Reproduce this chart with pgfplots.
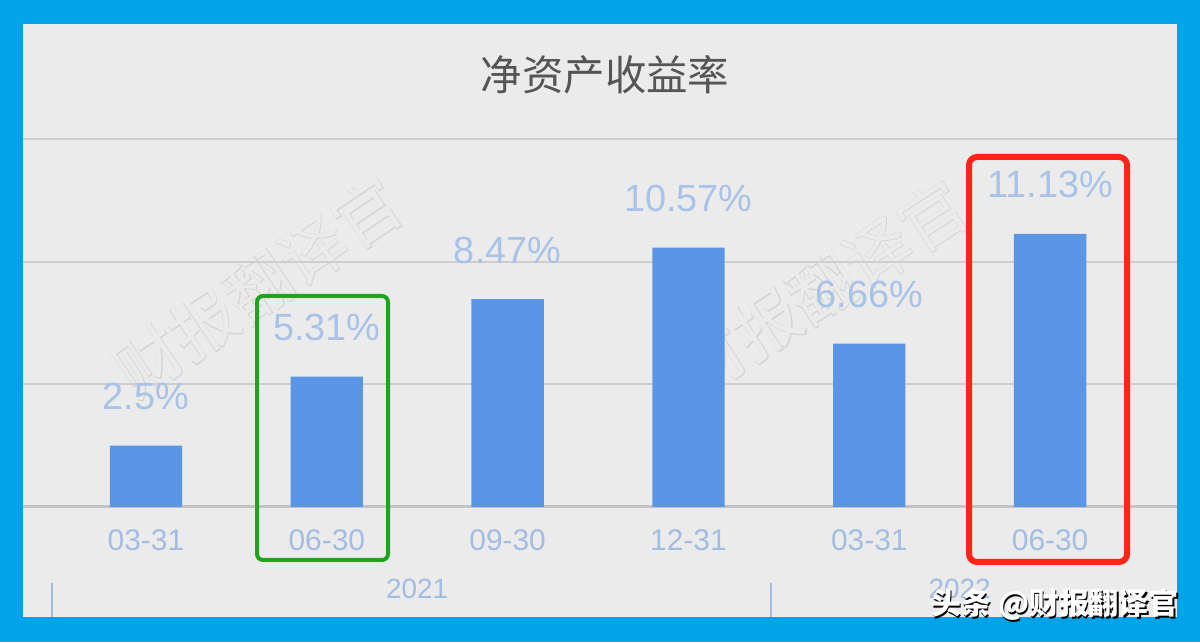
\documentclass[border=0pt]{standalone}
\usepackage{pgfplots}
\pgfplotsset{compat=1.18}
\usepackage{fontspec}
\setmainfont{Liberation Sans}
\newfontfamily\cjk{Noto Sans CJK SC}
\newfontfamily\cjkwmbold[FakeBold=1.6]{Noto Sans CJK SC}
\definecolor{frameblue}{HTML}{00A3E8}
\definecolor{bgray}{HTML}{EBEBEB}
\definecolor{barblue}{HTML}{5B96E6}
\definecolor{lblblue}{HTML}{A9C2E8}
\definecolor{ticklbl}{HTML}{A3BCE2}
\definecolor{gridc}{HTML}{CECECE}
\definecolor{basec}{HTML}{C4C4C4}
\definecolor{titlec}{HTML}{555555}
\definecolor{boxgreen}{HTML}{1EA51E}
\definecolor{boxred}{HTML}{FF2418}
\definecolor{wmark}{HTML}{D4D4D4}
\begin{document}
\begin{tikzpicture}
\begin{scope}[x=0.5bp,y=0.5bp]
\useasboundingbox (0,0) rectangle (1200,642);
\fill[frameblue] (0,0) rectangle (1200,642);
\fill[bgray] (23,25) rectangle (1177,618);
\foreach \cx/\cy/\ang in {258/355/34, 822/354/33}{
  \node[rotate=\ang, text=wmark, font=\cjkwmbold\fontsize{33}{33}\selectfont] at (\cx,\cy) {财报翻译官};
  \node[rotate=\ang, text=bgray, font=\cjk\fontsize{33}{33}\selectfont] at (\cx,\cy) {财报翻译官};
}
\node[text=titlec, font=\cjk\fontsize{20.8}{21}\selectfont] at (605,567) {净资产收益率};
\end{scope}
\begin{axis}[
  at={(11.5bp,67.5bp)}, anchor=south west, scale only axis,
  width=577bp, height=184bp,
  xmin=-0.680, xmax=5.702, ymin=0, ymax=15,
  axis line style={draw=none},
  major tick length=0pt,
  ytick={5,10,15}, yticklabels={},
  ymajorgrids, grid style={gridc, line width=1bp},
  xtick={0,1,2,3,4,5},
  xticklabels={03-31,06-30,09-30,12-31,03-31,06-30},
  xticklabel style={anchor=center, yshift=-16.5bp, text=ticklbl, font=\fontsize{15}{15}\selectfont},
  clip=false,
]
\draw[basec, line width=1.5bp] (axis cs:-0.680,0) -- (axis cs:5.702,0);
\addplot[ybar, bar width=0.4, fill=barblue, draw=none,
  nodes near coords={\pgfplotspointmeta\%}, point meta=explicit symbolic,
  every node near coord/.append style={anchor=center, yshift=24.5bp, text=lblblue, font=\fontsize{19}{19}\selectfont}]
  table[meta=lbl] {
x y lbl
0 2.5 2.5
1 5.31 5.31
2 8.47 8.47
3 10.57 10.57
4 6.66 6.66
5 11.13 11.13
};
\node[text=ticklbl, font=\fontsize{14}{14}\selectfont] at (axis cs:1.5,0) [yshift=-41bp] {2021};
\node[text=ticklbl, font=\fontsize{14}{14}\selectfont] at (axis cs:4.5,0) [yshift=-41bp] {2022};
\end{axis}
\begin{scope}[x=0.5bp,y=0.5bp]
\draw[ticklbl, line width=1bp] (52,59) -- (52,25);
\draw[ticklbl, line width=1bp] (771,59) -- (771,25);
\draw[boxgreen, line width=2bp, rounded corners=3bp] (257,82) rectangle (388,346);
\draw[boxred, line width=3bp, rounded corners=4bp] (969,80) rectangle (1127,485);
\node[text=black, font=\cjk\bfseries\fontsize{15}{15}\selectfont] at (1056.5,35.5) {头条 @财报翻译官};
\node[text=white, font=\cjk\bfseries\fontsize{15}{15}\selectfont] at (1055,37) {头条 @财报翻译官};
\end{scope}
\end{tikzpicture}
\end{document}
